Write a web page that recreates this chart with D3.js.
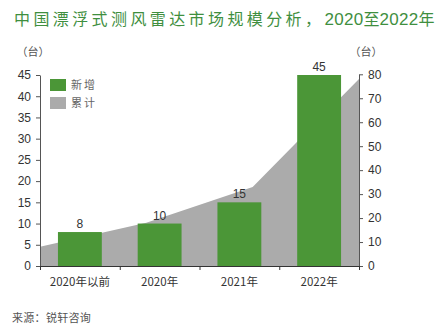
<!DOCTYPE html>
<html><head><meta charset="utf-8">
<script src="https://cdn.jsdelivr.net/npm/d3@7"></script>
<style>
body{margin:0;background:#fff;}
svg{display:block;}
text{font-family:"Liberation Sans",Arial,sans-serif;}
.cjk{font-family:"Noto Sans CJK SC",sans-serif;}
</style></head><body>
<svg id="c" width="444" height="334"></svg>
<script>
const categories = ["2020年以前","2020年","2021年","2022年"];
const newAdded = [8,10,15,45];
const cumulative = [8,18,33,78];
const leftTicks = [0,5,10,15,20,25,30,35,40,45];
const rightTicks = [0,10,20,30,40,50,60,70,80];

const svg = d3.select("#c");
const X0=40, X1=359, Y0=266, YT=75;
const green="#4b9637", grey="#ababab", axisCol="#555";

const x = d3.scaleBand().domain(categories).range([X0,X1]).paddingInner(0.45).paddingOuter(0.225);
const xp = d3.scalePoint().domain(categories).range([X0,X1]).padding(0);
const yL = d3.scaleLinear().domain([0,45]).range([Y0,YT]);
const yR = d3.scaleLinear().domain([0,80]).range([Y0,YT-0.7]);

// area
const area = d3.area().x(d=>xp(d.c)).y0(Y0).y1(d=>yR(d.v));
svg.append("path").datum(categories.map((c,i)=>({c,v:cumulative[i]})))
  .attr("d",area).attr("fill",grey);

// bars
svg.selectAll("rect.bar").data(categories).join("rect").attr("class","bar")
  .attr("x",d=>x(d)).attr("width",x.bandwidth())
  .attr("y",(d,i)=>yL(newAdded[i])).attr("height",(d,i)=>Y0-yL(newAdded[i]))
  .attr("fill",green);

// value labels
svg.selectAll("text.val").data(categories).join("text").attr("class","val")
  .attr("x",d=>x(d)+x.bandwidth()/2).attr("y",(d,i)=>yL(newAdded[i])-4)
  .attr("text-anchor","middle").attr("font-size",12).attr("fill","#333")
  .text((d,i)=>newAdded[i]);

// left axis
const gl = svg.append("g").attr("transform",`translate(${X0},0)`)
  .call(d3.axisLeft(yL).tickValues(leftTicks).tickSize(4).tickPadding(5).tickSizeOuter(0));
// right axis
const gr = svg.append("g").attr("transform",`translate(${X1},0)`)
  .call(d3.axisRight(yR).tickValues(rightTicks).tickSize(4).tickPadding(5).tickSizeOuter(0));
[gl,gr].forEach(g=>{
  g.select(".domain").attr("stroke",axisCol);
  g.selectAll(".tick line").attr("stroke",axisCol);
  g.selectAll(".tick text").attr("font-size",12).attr("fill","#333")
    .attr("font-family","'Liberation Sans',Arial,sans-serif");
});

// bottom axis
const xb = d3.scaleLinear().domain([0,4]).range([X0,X1]);
const gb = svg.append("g").attr("transform",`translate(0,${Y0})`)
  .call(d3.axisBottom(xb).tickValues([0,1,2,3,4]).tickSize(4).tickFormat("").tickSizeOuter(0));
gb.select(".domain").attr("stroke","#333");
gb.selectAll(".tick line").attr("stroke","#333");

svg.selectAll("text.cat").data(categories).join("text").attr("class","cat cjk")
  .attr("x",d=>x(d)+x.bandwidth()/2).attr("y",286)
  .attr("text-anchor","middle").attr("font-size",11.5).attr("fill","#333")
  .text(d=>d);

// units
svg.append("text").attr("class","cjk").attr("x",33).attr("y",56).attr("text-anchor","middle")
  .attr("font-size",11).attr("fill","#555").text("（台）");
svg.append("text").attr("class","cjk").attr("x",366).attr("y",56).attr("text-anchor","middle")
  .attr("font-size",11).attr("fill","#555").text("（台）");

// legend
const legend = [{t:"新增",c:green},{t:"累计",c:grey}];
legend.forEach((l,i)=>{
  svg.append("rect").attr("x",50).attr("y",79+i*18).attr("width",16).attr("height",12).attr("fill",l.c);
  svg.append("text").attr("class","cjk").attr("x",71).attr("y",89+i*18)
    .attr("font-size",11).attr("fill","#666").attr("letter-spacing",2).text(l.t);
});

// title
const title = svg.append("text").attr("x",14).attr("y",25).attr("fill","#3f8f3f").attr("font-size",16);
title.append("tspan").attr("class","cjk").attr("letter-spacing",3.4).text("中国漂浮式测风雷达市场规模分析，");
title.append("tspan").attr("font-size",17).attr("letter-spacing",0.3).text("2020");
title.append("tspan").attr("class","cjk").text("至");
title.append("tspan").attr("font-size",17).attr("letter-spacing",0.3).text("2022");
title.append("tspan").attr("class","cjk").text("年");

// source
svg.append("text").attr("class","cjk").attr("x",12).attr("y",322)
  .attr("font-size",11).attr("fill","#555").attr("letter-spacing",0.3).text("来源：锐轩咨询");
</script>
</body></html>
